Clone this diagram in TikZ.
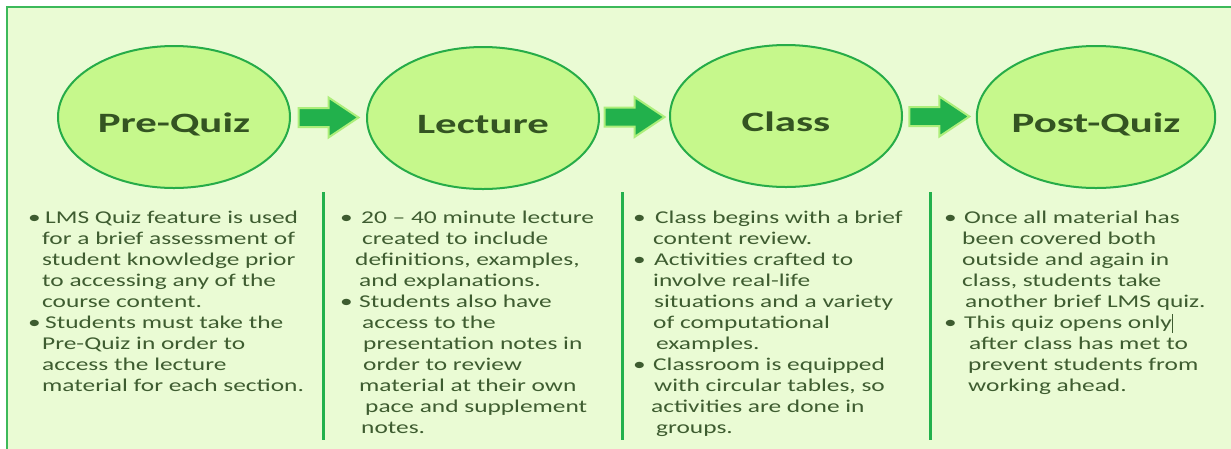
\documentclass[tikz,border=0pt]{standalone}
\usepackage{fontspec}
\setmainfont{Carlito}[FakeStretch=1.41]
\newfontfamily\titlefont{Carlito}[FakeStretch=1.53]
\usetikzlibrary{shapes.geometric,calc}
\definecolor{bg}{RGB}{234,251,212}
\definecolor{ellfill}{RGB}{198,248,140}
\definecolor{ellline}{RGB}{38,172,72}
\definecolor{titlec}{RGB}{52,84,34}
\definecolor{bodyc}{RGB}{62,92,48}
\definecolor{arrowc}{RGB}{34,177,76}
\definecolor{arrowedge}{RGB}{172,238,122}
\definecolor{framec}{RGB}{60,185,90}
\newcommand\bl[2]{\makebox[#1pt][l]{•}#2}
\newcommand\cl[2]{\hspace*{#1pt}#2}
\tikzset{
  phase/.style={ellipse, draw=ellline, line width=2pt, fill=ellfill,
    minimum width=232pt, minimum height=142pt, inner sep=0pt,
    text height=30pt, text depth=0pt,
    font=\titlefont\fontsize{28}{30}\selectfont\bfseries, text=titlec},
  blockarrow/.style={fill=arrowc, draw=arrowedge, line width=2pt, line join=miter},
  divider/.style={draw=arrowc, line width=3pt},
  column/.style={anchor=north west, inner sep=0pt, align=left, text=bodyc,
    font=\fontsize{18}{21}\selectfont}
}
\begin{document}
\begin{tikzpicture}[x=1pt,y=-1pt]
\clip (0,0) rectangle (1231,448);
\fill[white] (0,0) rectangle (1231,448);
\draw[framec, line width=2.5pt, fill=bg] (7,7) rectangle (1260,480);

\node[phase] (pre)  at (174,117) {Pre-Quiz};
\node[phase] (lec)  at (483,118) {Lecture};
\node[phase] (cls)  at (786,116) {Class};
\node[phase] (post) at (1096,117) {Post-Quiz};

\coordinate (a1) at ($(pre.east)!0.5!(lec.west)$);
\coordinate (a2) at ($(lec.east)!0.5!(cls.west)$);
\coordinate (a3) at ($(cls.east)!0.5!(post.west)$);
\foreach \a in {a1,a2,a3}{
  \draw[blockarrow, shift={(\a)}] (-30,-9.5) -- (0,-9.5) -- (0,-20) -- (30,0) -- (0,20) -- (0,9.5) -- (-30,9.5) -- cycle;
}

\draw[divider] (323,192) -- (323,440);
\draw[divider] (622,192) -- (622,440);
\draw[divider] (930,192) -- (930,440);

\node[column] (c1) at (28,211) {%
\bl{17}{LMS Quiz feature is used}\\
\cl{14}{for a brief assessment of}\\
\cl{14}{student knowledge prior}\\
\cl{14}{to accessing any of the}\\
\cl{14}{course content.}\\
\bl{17}{Students must take the}\\
\cl{14}{Pre-Quiz in order to}\\
\cl{14}{access the lecture}\\
\cl{14}{material for each section.}};

\node[column] (c2) at (340,211) {%
\bl{21}{20 – 40 minute lecture}\\
\cl{22}{created to include}\\
\cl{15}{definitions, examples,}\\
\cl{19}{and explanations.}\\
\bl{19}{Students also have}\\
\cl{22}{access to the}\\
\cl{23}{presentation notes in}\\
\cl{23}{order to review}\\
\cl{19}{material at their own}\\
\cl{25}{pace and supplement}\\
\cl{21}{notes.}};

\node[column] (c3) at (633,211) {%
\bl{22}{Class begins with a brief}\\
\cl{20}{content review.}\\
\bl{21}{Activities crafted to}\\
\cl{20}{involve real-life}\\
\cl{21}{situations and a variety}\\
\cl{20}{of computational}\\
\cl{23}{examples.}\\
\bl{20}{Classroom is equipped}\\
\cl{21}{with circular tables, so}\\
\cl{18}{activities are done in}\\
\cl{23}{groups.}};

\node[column] (c4) at (944,211) {%
\bl{20}{Once all material has}\\
\cl{18}{been covered both}\\
\cl{18}{outside and again in}\\
\cl{18}{class, students take}\\
\cl{21}{another brief LMS quiz.}\\
\bl{20}{This quiz opens only\rule[-4pt]{1pt}{19pt}}\\
\cl{25}{after class has met to}\\
\cl{24}{prevent students from}\\
\cl{24}{working ahead.}};
\end{tikzpicture}
\end{document}
